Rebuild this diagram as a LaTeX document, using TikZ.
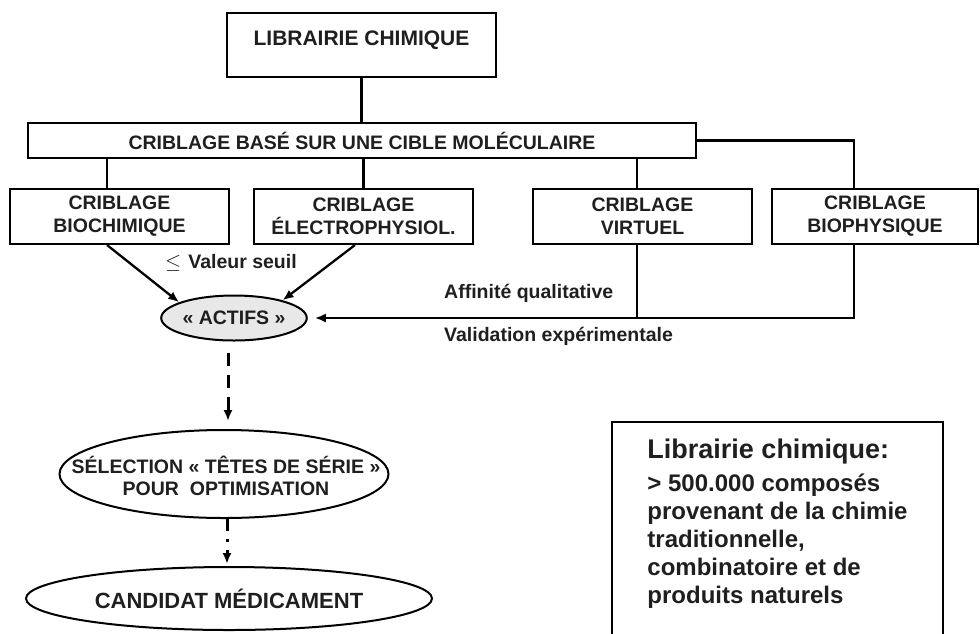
\documentclass[tikz,border=0pt]{standalone}
\usepackage{fontspec}
\setmainfont{Liberation Sans}
\usetikzlibrary{shapes.geometric,arrows.meta}

\tikzset{
    box/.style={draw, line width=2pt, inner sep=0pt, align=center, font=\bfseries\fontsize{19.5}{23}\selectfont},
    oval/.style={ellipse, draw, line width=2pt, inner sep=0pt, font=\bfseries\fontsize{19.5}{23}\selectfont},
    note/.style={anchor=west, inner sep=0pt, font=\bfseries\fontsize{19.5}{23}\selectfont},
    link/.style={line width=2.3pt},
    arrow/.style={line width=2.3pt, -{Latex[length=11pt,width=9pt]}},
    dasharrow/.style={line width=3pt, dash pattern=on 13pt off 9pt, -{Latex[length=11pt,width=9pt]}},
    dotarrow/.style={line width=3pt, dash pattern=on 12pt off 8pt on 3pt off 8pt, -{Latex[length=11pt,width=9pt]}},
}

\begin{document}
\begin{tikzpicture}[x=1pt, y=-1pt, text=black!88]
    \useasboundingbox (0,0) rectangle (980,633);

    \node[box, minimum width=269pt, minimum height=64pt] (lib) at (361.5,45) {\fontsize{21}{23}\selectfont LIBRAIRIE CHIMIQUE\\[-16pt]\strut};
    \node[box, minimum width=668pt, minimum height=35pt] (cible) at (362,140.5) {CRIBLAGE BASÉ SUR UNE CIBLE MOLÉCULAIRE};

    \node[box, minimum width=219pt, minimum height=55pt] (bio) at (119.5,216.5) {CRIBLAGE\\BIOCHIMIQUE};
    \node[box, minimum width=219pt, minimum height=55pt] (electro) at (363.5,216.5) {CRIBLAGE\\ÉLECTROPHYSIOL.};
    \node[box, minimum width=219pt, minimum height=55pt] (virt) at (642.5,216.5) {CRIBLAGE\\VIRTUEL};
    \node[box, minimum width=206pt, minimum height=55pt] (biophys) at (875,216.5) {CRIBLAGE\\BIOPHYSIQUE};

    \node[oval, fill=gray!18, minimum width=142pt, minimum height=45pt] (actifs) at (234,318) {« ACTIFS »};
    \node[oval, minimum width=329pt, minimum height=88pt] (sel) at (224,474) {};
    \node[align=center, inner sep=0pt, font=\bfseries\fontsize{19.5}{22}\selectfont] (seltext) at (226,476) {SÉLECTION « TÊTES DE SÉRIE »\\POUR\ \ OPTIMISATION};
    \node[oval, minimum width=406pt, minimum height=63pt, font=\bfseries\fontsize{22}{24}\selectfont] (cand) at (229,598.5) {CANDIDAT MÉDICAMENT};

    \node[note] (seuil) at (165,263) {$\leq$\hspace{7pt}Valeur seuil};
    \node[note] (affinite) at (444,293) {Affinité qualitative};
    \node[note] (validation) at (444,336) {Validation expérimentale};

    \node[draw, line width=2pt, minimum width=331pt, minimum height=216pt, align=left, font=\bfseries\fontsize{24}{28.2}\selectfont] (info) at (777.5,530)
        {{\fontsize{27}{28}\selectfont Librairie chimique:}\\[4pt]
         > 500.000 composés\\provenant de la chimie\\traditionnelle,\\combinatoire et de\\produits naturels\\[-20pt]\strut};

    % tree
    \draw[link] (lib.south) -- (lib.south |- cible.north);
    \draw[link] ([xshift=-12.5pt]bio.north) -- ([xshift=-12.5pt]bio.north |- cible.south);
    \draw[link] (electro.north) -- (electro.north |- cible.south);
    \draw[link] ([xshift=-5.5pt]virt.north) -- ([xshift=-5.5pt]virt.north |- cible.south);
    \draw[link] (cible.east) -| ([xshift=-21pt]biophys.north);

    % towards the actives
    \draw[arrow] ([xshift=-12.5pt]bio.south) -- (actifs.164);
    \draw[arrow] ([xshift=-8.5pt]electro.south) -- (actifs.20);
    \draw[link] ([xshift=-5.5pt]virt.south) -- ([xshift=-5.5pt]virt.south |- actifs.east);
    \draw[arrow, shorten >=7pt] ([xshift=-21pt]biophys.south) |- (actifs.east);

    % selection
    \draw[dasharrow, shorten <=11pt, shorten >=8pt] ([xshift=-6pt]actifs.south) -- ([xshift=-6pt]actifs.south |- sel.north);
    \draw[dotarrow, shorten >=2pt] ([xshift=3pt]sel.south) -- ([xshift=3pt]sel.south |- cand.north);
\end{tikzpicture}
\end{document}
